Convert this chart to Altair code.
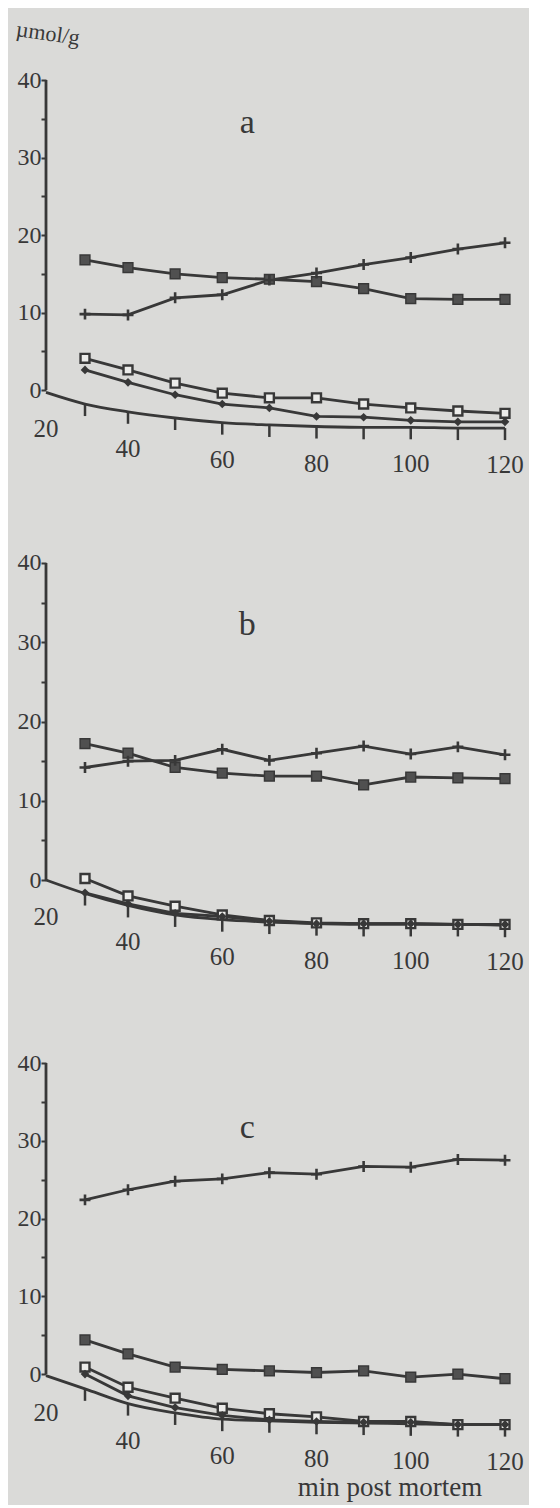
import altair as alt
import pandas as pd

# ---------------- data ----------------
minutes = [30, 40, 50, 60, 70, 80, 90, 100, 110, 120]
axis_minutes = [20, 30, 40, 50, 60, 70, 80, 90, 100, 110, 120]
x_tick_labels = ["20", "40", "60", "80", "100", "120"]
x_tick_label_minutes = [20, 40, 60, 80, 100, 120]

# panel a
a_filled_sq = [16.8, 15.8, 15.0, 14.5, 14.3, 14.0, 13.1, 11.8, 11.7, 11.7]
a_plus = [9.8, 9.7, 11.9, 12.3, 14.2, 15.1, 16.2, 17.1, 18.2, 19.0]
a_open_sq = [4.1, 2.6, 0.9, -0.4, -1.0, -1.0, -1.8, -2.3, -2.7, -3.0]
a_diamond = [2.6, 1.0, -0.6, -1.8, -2.3, -3.4, -3.5, -3.9, -4.1, -4.1]
a_axis = [-0.3, -1.8, -2.8, -3.6, -4.2, -4.5, -4.7, -4.8, -4.8, -4.9, -4.9]

# panel b
b_filled_sq = [17.2, 16.0, 14.2, 13.5, 13.1, 13.1, 12.0, 13.0, 12.9, 12.8]
b_plus = [14.2, 15.0, 15.1, 16.5, 15.1, 16.0, 16.9, 15.9, 16.8, 15.8]
b_open_sq = [0.2, -2.0, -3.3, -4.4, -5.1, -5.4, -5.5, -5.5, -5.6, -5.6]
b_diamond = [-1.6, -3.0, -4.2, -4.6, -5.2, -5.5, -5.5, -5.5, -5.6, -5.6]
b_axis = [0.0, -1.7, -3.2, -4.4, -5.0, -5.3, -5.5, -5.6, -5.6, -5.6, -5.7]

# panel c
c_plus = [22.4, 23.7, 24.8, 25.1, 25.9, 25.7, 26.7, 26.6, 27.6, 27.5]
c_filled_sq = [4.4, 2.6, 0.9, 0.6, 0.4, 0.2, 0.4, -0.4, 0.0, -0.6]
c_open_sq = [0.9, -1.7, -3.1, -4.4, -5.1, -5.5, -6.1, -6.1, -6.5, -6.5]
c_diamond = [0.0, -2.8, -4.3, -5.3, -5.9, -6.1, -6.2, -6.2, -6.5, -6.5]
c_axis = [-0.2, -1.9, -3.8, -5.0, -5.8, -6.0, -6.2, -6.3, -6.4, -6.5, -6.5]

y_axis_extent = [0, 40]
y_tick_values = [0, 5, 10, 15, 20, 25, 30, 35, 40]

# ---------------- styling ----------------
INK = "#383838"
BG = "#dadad8"
OPEN_FILL = "#ececea"
FONT = "Liberation Serif"
PLUS_PATH = "M-1,0H1M0,-1V1"
LW = 2.8

x_scale = alt.Scale(domain=[20, 30, 40, 120], range=[0, 39, 82, 459], nice=False, zero=False)
WIDTH = 476


def panel(filled_sq, open_sq, diamond, plus, axis_vals, letter, letter_x, letter_y,
          y_lo, y_hi, ppu, extra_texts=None):
    height = int(round((y_hi - y_lo) * ppu))
    y_scale = alt.Scale(domain=[y_lo, y_hi], nice=False, zero=False)
    x_enc = alt.X("minute:Q", scale=x_scale, axis=None)
    y_axis = alt.Axis(values=y_tick_values,
                      labelExpr="datum.value % 10 == 0 ? datum.label : ''",
                      domain=False, grid=False, ticks=True, tickSize=5, tickWidth=2,
                      tickColor=INK, labelColor=INK, labelFont=FONT, labelFontSize=24,
                      labelPadding=0, title=None)
    y_enc = alt.Y("value:Q", scale=y_scale, axis=y_axis)

    rows = []
    for name, vals in [("filled", filled_sq), ("open", open_sq),
                       ("diamond", diamond), ("plus", plus)]:
        for m, v in zip(minutes, vals):
            rows.append({"minute": m, "value": v, "series": name})
    df = pd.DataFrame(rows)
    axis_df = pd.DataFrame({"minute": axis_minutes, "value": axis_vals})
    tick_df = axis_df[axis_df["minute"] > 20]
    lab_df = axis_df[axis_df["minute"].isin(x_tick_label_minutes)].copy()
    lab_df["label"] = x_tick_labels
    yaxis_df = pd.DataFrame({"minute": [20], "value": [y_axis_extent[0]],
                             "value2": [y_axis_extent[1]]})

    base = alt.Chart(df).encode(x=x_enc, y=y_enc)

    yrule = alt.Chart(yaxis_df).mark_rule(color=INK, strokeWidth=LW).encode(
        x=x_enc, y=y_enc, y2="value2:Q")
    xline = alt.Chart(axis_df).mark_line(color=INK, strokeWidth=LW,
                                         interpolate="monotone").encode(x=x_enc, y=y_enc)
    xticks = alt.Chart(tick_df).mark_tick(orient="vertical", size=12, thickness=2.5,
                                          yOffset=6, color=INK, opacity=1).encode(
        x=x_enc, y=y_enc)
    xlabels = alt.Chart(lab_df).mark_text(dy=37, font=FONT, fontSize=25, color=INK).encode(
        x=x_enc, y=y_enc, text="label:N")

    lines = base.mark_line(color=INK, strokeWidth=LW).encode(detail="series:N")
    p_filled = base.transform_filter("datum.series == 'filled'").mark_point(
        shape="square", filled=True, fill="#505050", stroke=INK, strokeWidth=1.5,
        size=95, opacity=1)
    p_open = base.transform_filter("datum.series == 'open'").mark_point(
        shape="square", filled=True, fill=OPEN_FILL, stroke=INK, strokeWidth=2.4,
        size=80, opacity=1)
    p_diamond = base.transform_filter("datum.series == 'diamond'").mark_point(
        shape="diamond", filled=True, fill=INK, size=75, opacity=1)
    p_plus = base.transform_filter("datum.series == 'plus'").mark_point(
        shape=PLUS_PATH, filled=False, stroke=INK, strokeWidth=2.6, size=120, opacity=1)

    txt_rows = [{"minute": letter_x, "value": letter_y, "label": letter, "size": 34,
                 "angle": 0}]
    if extra_texts:
        txt_rows += extra_texts
    letters = []
    for r in txt_rows:
        letters.append(
            alt.Chart(pd.DataFrame([r])).mark_text(
                font=FONT, fontSize=r["size"], color=INK, angle=r["angle"]).encode(
                x=x_enc, y=y_enc, text="label:N"))

    layers = [yrule, xline, xticks, lines, p_filled, p_open, p_diamond, p_plus, xlabels] + letters
    return alt.layer(*layers).properties(width=WIDTH, height=height)


pa = panel(a_filled_sq, a_open_sq, a_diamond, a_plus, a_axis, "a", 65.3, 34.5,
           -11.6, 48.65, 7.75,
           extra_texts=[{"minute": 20.5, "value": 46.0, "label": "µmol/g", "size": 22,
                         "angle": 8}])
pb = panel(b_filled_sq, b_open_sq, b_diamond, b_plus, b_axis, "b", 65.3, 32.2,
           -13.24, 50.47, 7.93)
pc = panel(c_filled_sq, c_open_sq, c_diamond, c_plus, c_axis, "c", 65.3, 31.6,
           -15.55, 50.03, 7.78,
           extra_texts=[{"minute": 95.6, "value": -14.7, "label": "min post mortem",
                         "size": 27, "angle": 0}])

chart = alt.vconcat(pa, pb, pc, spacing=0).properties(
    padding={"left": 6, "top": 5, "right": 5, "bottom": 3},
    background=BG,
).configure_view(stroke=None)

chart.save("out.html", embed_options={"renderer": "svg", "actions": False})
